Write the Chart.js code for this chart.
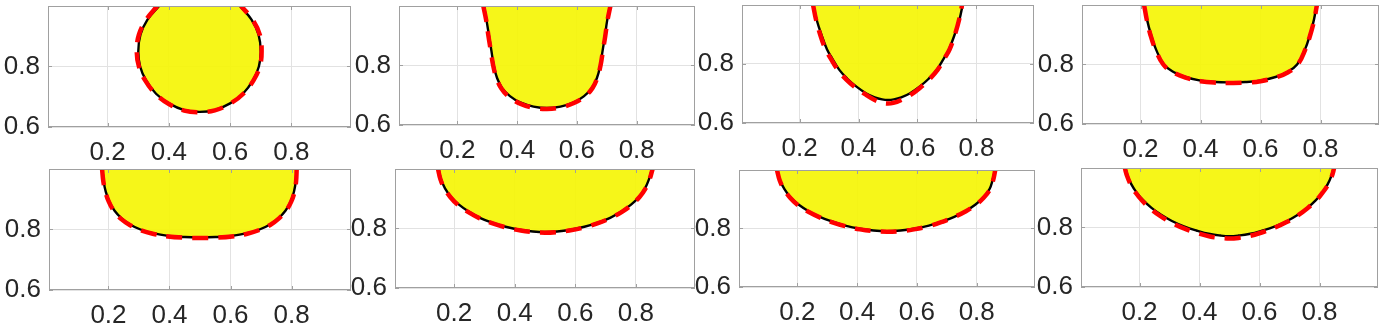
<!doctype html>
<html lang="en">
<head>
<meta charset="utf-8">
<title>Front shapes</title>
<style>
  * { margin: 0; padding: 0; }
  body { background: #fff; }
  .figure { position: relative; width: 1388px; height: 326px; overflow: hidden; background: #fff; }
  .panel { position: absolute; }
</style>
</head>
<body>
<div class="figure" id="figure"></div>
<script src="https://cdn.jsdelivr.net/npm/chart.js/dist/chart.umd.min.js"></script>
<script>
// ticks
const xTicks = [0.2, 0.4, 0.6, 0.8];
const yTicks = [0.6, 0.8];

// black solid curves (x, y)
const exact1 = [[0.368,1.0],[0.33,0.955],[0.307,0.905],[0.300,0.85],[0.306,0.80],[0.325,0.755],[0.358,0.71],[0.40,0.678],[0.45,0.656],[0.50,0.650],[0.55,0.656],[0.60,0.678],[0.642,0.71],[0.675,0.755],[0.694,0.80],[0.700,0.85],[0.693,0.905],[0.670,0.955],[0.632,1.0]];
const exact2 = [[0.289,1.0],[0.298,0.95],[0.306,0.90],[0.314,0.85],[0.322,0.80],[0.333,0.758],[0.350,0.724],[0.376,0.697],[0.41,0.676],[0.455,0.662],[0.50,0.657],[0.545,0.662],[0.59,0.676],[0.624,0.697],[0.650,0.724],[0.667,0.758],[0.678,0.80],[0.686,0.85],[0.694,0.90],[0.701,0.95],[0.711,1.0]];
const exact3 = [[0.246,1.0],[0.258,0.95],[0.274,0.90],[0.293,0.85],[0.31,0.82],[0.335,0.78],[0.362,0.75],[0.392,0.724],[0.425,0.701],[0.455,0.687],[0.48,0.680],[0.50,0.678],[0.52,0.680],[0.545,0.687],[0.575,0.701],[0.608,0.724],[0.638,0.75],[0.665,0.78],[0.69,0.82],[0.707,0.85],[0.726,0.90],[0.742,0.95],[0.753,1.0]];
const exact4 = [[0.213,1.0],[0.222,0.95],[0.235,0.90],[0.252,0.85],[0.278,0.80],[0.31,0.775],[0.35,0.758],[0.40,0.746],[0.45,0.741],[0.50,0.740],[0.55,0.741],[0.60,0.746],[0.65,0.758],[0.69,0.775],[0.722,0.80],[0.748,0.85],[0.765,0.90],[0.778,0.95],[0.787,1.0]];
const exact5 = [[0.180,1.0],[0.184,0.96],[0.191,0.925],[0.203,0.892],[0.220,0.862],[0.243,0.837],[0.272,0.816],[0.305,0.800],[0.345,0.788],[0.395,0.779],[0.45,0.775],[0.50,0.774],[0.55,0.775],[0.605,0.779],[0.655,0.788],[0.695,0.800],[0.728,0.816],[0.757,0.837],[0.780,0.862],[0.797,0.892],[0.808,0.925],[0.814,0.96],[0.816,1.0]];
const exact6 = [[0.149,1.0],[0.157,0.965],[0.170,0.935],[0.190,0.906],[0.216,0.880],[0.248,0.857],[0.285,0.836],[0.325,0.820],[0.37,0.806],[0.42,0.795],[0.46,0.790],[0.50,0.788],[0.54,0.790],[0.58,0.795],[0.63,0.806],[0.675,0.820],[0.715,0.836],[0.752,0.857],[0.784,0.880],[0.810,0.906],[0.830,0.935],[0.843,0.965],[0.853,1.0]];
const exact7 = [[0.133,1.0],[0.142,0.965],[0.157,0.935],[0.178,0.906],[0.205,0.881],[0.238,0.859],[0.275,0.840],[0.315,0.824],[0.36,0.810],[0.41,0.799],[0.455,0.793],[0.50,0.791],[0.545,0.793],[0.59,0.799],[0.64,0.810],[0.685,0.824],[0.725,0.840],[0.762,0.859],[0.795,0.881],[0.822,0.906],[0.843,0.935],[0.853,0.965],[0.861,1.0]];
const exact8 = [[0.153,1.0],[0.161,0.972],[0.173,0.945],[0.190,0.918],[0.212,0.892],[0.240,0.866],[0.272,0.843],[0.308,0.822],[0.348,0.804],[0.39,0.790],[0.435,0.778],[0.47,0.773],[0.50,0.771],[0.53,0.773],[0.565,0.778],[0.61,0.790],[0.652,0.804],[0.692,0.822],[0.728,0.843],[0.760,0.866],[0.788,0.892],[0.810,0.918],[0.827,0.945],[0.839,0.972],[0.847,1.0]];

// red dashed curves
const approx1 = [[0.362,1.0],[0.326,0.955],[0.302,0.905],[0.295,0.85],[0.302,0.80],[0.322,0.755],[0.356,0.71],[0.40,0.676],[0.45,0.654],[0.50,0.649],[0.55,0.655],[0.60,0.677],[0.643,0.71],[0.677,0.755],[0.697,0.80],[0.703,0.85],[0.697,0.905],[0.673,0.955],[0.636,1.0]];
const approx2 = [[0.287,1.0],[0.297,0.95],[0.304,0.90],[0.312,0.85],[0.320,0.80],[0.331,0.758],[0.348,0.722],[0.374,0.694],[0.41,0.672],[0.455,0.658],[0.50,0.654],[0.545,0.659],[0.59,0.674],[0.626,0.696],[0.652,0.724],[0.668,0.758],[0.679,0.80],[0.687,0.85],[0.695,0.90],[0.702,0.95],[0.712,1.0]];
const approx3 = [[0.246,1.0],[0.256,0.95],[0.270,0.90],[0.288,0.85],[0.305,0.82],[0.33,0.78],[0.358,0.748],[0.39,0.720],[0.425,0.696],[0.455,0.678],[0.478,0.669],[0.497,0.666],[0.518,0.668],[0.545,0.678],[0.575,0.694],[0.607,0.718],[0.64,0.748],[0.668,0.78],[0.692,0.82],[0.709,0.85],[0.727,0.90],[0.741,0.95],[0.751,1.0]];
const approx4 = [[0.212,1.0],[0.221,0.95],[0.233,0.90],[0.250,0.85],[0.276,0.80],[0.308,0.774],[0.35,0.756],[0.40,0.744],[0.45,0.739],[0.50,0.738],[0.55,0.739],[0.60,0.744],[0.65,0.756],[0.692,0.774],[0.724,0.80],[0.749,0.85],[0.766,0.90],[0.779,0.95],[0.788,1.0]];
const approx5 = [[0.179,1.0],[0.183,0.96],[0.190,0.925],[0.201,0.892],[0.218,0.861],[0.241,0.835],[0.271,0.814],[0.305,0.798],[0.345,0.786],[0.395,0.777],[0.45,0.773],[0.50,0.772],[0.55,0.773],[0.605,0.777],[0.655,0.786],[0.696,0.799],[0.730,0.815],[0.759,0.837],[0.782,0.862],[0.799,0.892],[0.810,0.925],[0.815,0.96],[0.817,1.0]];
const approx6 = [[0.147,1.0],[0.155,0.965],[0.168,0.935],[0.188,0.905],[0.214,0.878],[0.247,0.855],[0.285,0.834],[0.325,0.818],[0.37,0.804],[0.42,0.793],[0.46,0.788],[0.50,0.786],[0.54,0.788],[0.58,0.793],[0.63,0.804],[0.675,0.818],[0.716,0.835],[0.754,0.856],[0.786,0.880],[0.812,0.906],[0.832,0.935],[0.845,0.965],[0.855,1.0]];
const approx7 = [[0.132,1.0],[0.141,0.965],[0.155,0.935],[0.176,0.905],[0.203,0.879],[0.237,0.857],[0.275,0.838],[0.315,0.822],[0.36,0.808],[0.41,0.797],[0.455,0.791],[0.50,0.789],[0.545,0.791],[0.59,0.797],[0.64,0.808],[0.685,0.823],[0.726,0.840],[0.764,0.859],[0.797,0.881],[0.824,0.906],[0.845,0.935],[0.855,0.965],[0.862,1.0]];
const approx8 = [[0.151,1.0],[0.159,0.972],[0.171,0.944],[0.188,0.916],[0.210,0.889],[0.238,0.862],[0.270,0.838],[0.307,0.816],[0.348,0.797],[0.39,0.782],[0.435,0.770],[0.47,0.765],[0.50,0.763],[0.53,0.765],[0.565,0.771],[0.61,0.784],[0.652,0.800],[0.692,0.819],[0.728,0.841],[0.760,0.865],[0.789,0.891],[0.811,0.918],[0.829,0.945],[0.841,0.972],[0.849,1.0]];

const exactCurves = [exact1, exact2, exact3, exact4, exact5, exact6, exact7, exact8];
const approxCurves = [approx1, approx2, approx3, approx4, approx5, approx6, approx7, approx8];

// plot area of each axes on the page: left, top, width, height
const boxes = [
  [48, 6, 303, 121], [399, 6, 296, 119], [742, 5, 292, 118], [1082, 5, 297, 119],
  [49, 169, 302, 121], [395, 169, 300, 119], [739, 170, 296, 117], [1081, 168, 297, 119]
];

const YAXIS_W = 48, XAXIS_H = 40, PAD_TOP = 6, PAD_RIGHT = 6;
const fontSpec = { family: "'Liberation Sans', Arial, sans-serif", size: 26 };

// MATLAB-ish box with small inward ticks
const axesBox = {
  id: 'axesBox',
  afterDatasetsDraw(chart) {
    const { ctx, chartArea: a, scales } = chart;
    ctx.save();
    ctx.strokeStyle = '#a0a0a0';
    ctx.lineWidth = 1;
    ctx.strokeRect(a.left + 0.5, a.top + 0.5, a.right - a.left - 1, a.bottom - a.top - 1);
    ctx.beginPath();
    xTicks.forEach(v => {
      const px = Math.round(scales.x.getPixelForValue(v)) + 0.5;
      ctx.moveTo(px, a.bottom); ctx.lineTo(px, a.bottom - 4);
      ctx.moveTo(px, a.top); ctx.lineTo(px, a.top + 4);
    });
    yTicks.forEach(v => {
      const py = Math.round(scales.y.getPixelForValue(v)) + 0.5;
      ctx.moveTo(a.left, py); ctx.lineTo(a.left + 4, py);
      ctx.moveTo(a.right, py); ctx.lineTo(a.right - 4, py);
    });
    ctx.stroke();
    ctx.restore();
  }
};

const toPoints = arr => arr.map(p => ({ x: p[0], y: p[1] }));
const figure = document.getElementById('figure');

boxes.forEach((b, i) => {
  const [left, top, w, h] = b;
  const holder = document.createElement('div');
  holder.className = 'panel';
  holder.style.left = (left - YAXIS_W) + 'px';
  holder.style.top = (top - PAD_TOP) + 'px';
  const canvas = document.createElement('canvas');
  canvas.width = w + YAXIS_W + PAD_RIGHT;
  canvas.height = h + PAD_TOP + XAXIS_H;
  holder.appendChild(canvas);
  figure.appendChild(holder);

  new Chart(canvas, {
    type: 'line',
    data: {
      datasets: [
        {
          data: toPoints(approxCurves[i]),
          borderColor: '#ff0000',
          borderWidth: 4.5,
          borderDash: [16, 10],
          pointRadius: 0,
          fill: false,
          tension: 0.4,
          clip: 0
        },
        {
          data: toPoints(exactCurves[i]),
          borderColor: '#000000',
          borderWidth: 2.4,
          backgroundColor: 'rgba(245, 245, 8, 0.93)',
          fill: 'shape',
          pointRadius: 0,
          tension: 0.4,
          clip: 0
        }
      ]
    },
    options: {
      responsive: false,
      animation: false,
      events: [],
      layout: { autoPadding: false, padding: { left: 0, top: PAD_TOP, right: PAD_RIGHT, bottom: 0 } },
      plugins: { legend: { display: false }, tooltip: { enabled: false } },
      scales: {
        x: {
          type: 'linear',
          min: 0.005,
          max: 0.995,
          afterBuildTicks: s => { s.ticks = xTicks.map(v => ({ value: v })); },
          afterFit: s => { s.height = XAXIS_H; s.paddingLeft = 0; s.paddingRight = 0; },
          grid: { color: '#e2e2e2', drawTicks: false },
          border: { display: false },
          ticks: {
            color: '#262626', font: fontSpec, padding: 10,
            maxRotation: 0, autoSkip: false,
            callback: v => v.toFixed(1)
          }
        },
        y: {
          type: 'linear',
          min: 0.6,
          max: 1.0,
          afterBuildTicks: s => { s.ticks = yTicks.map(v => ({ value: v })); },
          afterFit: s => { s.width = YAXIS_W; s.paddingTop = 0; s.paddingBottom = 0; },
          grid: { color: '#e2e2e2', drawTicks: false },
          border: { display: false },
          ticks: {
            color: '#262626', font: fontSpec, padding: 8,
            autoSkip: false,
            callback: v => v.toFixed(1)
          }
        }
      }
    },
    plugins: [axesBox]
  });
});
</script>
</body>
</html>
